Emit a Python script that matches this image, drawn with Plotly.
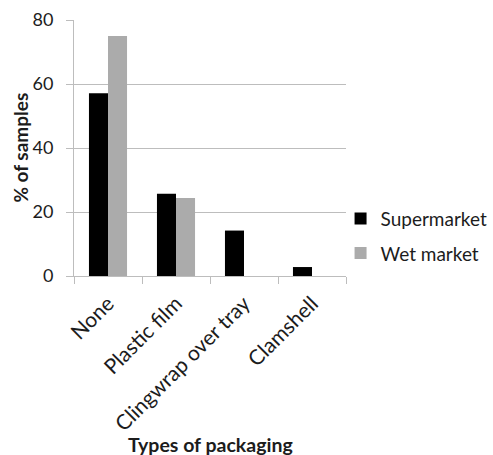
import plotly.graph_objects as go

# Share of samples by packaging type, per market type
categories = ["None", "Plastic film", "Clingwrap over tray", "Clamshell"]
supermarket = [57.1, 25.7, 14.2, 2.8]
wet_market = [75.0, 24.4, 0, 0]
y_ticks = [0, 20, 40, 60, 80]

FONT = "Lato"
TEXT = "#1c1c1c"

fig = go.Figure()
fig.add_trace(go.Bar(name="Supermarket", x=categories, y=supermarket, legendgroup="s",
                     marker=dict(color="#000000", line=dict(width=0))))
fig.add_trace(go.Bar(name="Wet market", x=categories, y=wet_market, legendgroup="w",
                     marker=dict(color="#ababab", line=dict(width=0))))

fig.update_layout(
    width=493, height=455,
    margin=dict(l=74, r=147, t=20, b=179, autoexpand=False),
    paper_bgcolor="white", plot_bgcolor="white",
    barmode="group", bargap=0.44, bargroupgap=0,
    font=dict(family=FONT, color=TEXT),
    showlegend=True,
    legend=dict(x=0.98, y=0.156, xanchor="left", yanchor="middle",
                font=dict(family=FONT, size=19, color=TEXT),
                itemsizing="constant", tracegroupgap=7, bgcolor="rgba(0,0,0,0)"),
    xaxis=dict(
        type="category", showgrid=False, showline=True, linecolor="#bdbdbd", linewidth=1,
        ticks="outside", tickson="boundaries", ticklen=7, tickcolor="#bdbdbd",
        tickangle=-45, tickfont=dict(family=FONT, size=21, color=TEXT),
        ticklabelstandoff=6, automargin=False,
    ),
    yaxis=dict(
        range=[0, 80], tickvals=y_ticks, showgrid=True, gridcolor="#bdbdbd", gridwidth=1,
        showline=True, linecolor="#bdbdbd", linewidth=1, zeroline=False,
        ticks="outside", ticklen=7, tickcolor="#bdbdbd", ticklabelstandoff=9,
        tickfont=dict(family=FONT, size=18, color=TEXT), automargin=False,
    ),
    annotations=[
        dict(text="<b>% of samples</b>", xref="paper", yref="paper", x=-0.2, y=0.5,
             xanchor="center", yanchor="middle", textangle=-90, showarrow=False,
             font=dict(family=FONT, size=19, color=TEXT)),
        dict(text="<b>Types of packaging</b>", xref="paper", yref="paper", x=0.5, y=-0.66,
             xanchor="center", yanchor="middle", showarrow=False,
             font=dict(family=FONT, size=19.5, color=TEXT)),
    ],
)

fig.write_html("out.html")
